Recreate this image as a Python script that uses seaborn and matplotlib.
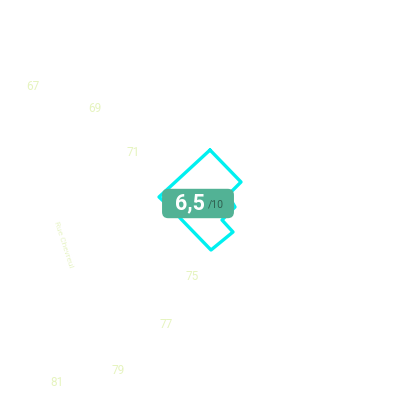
import numpy as np
import pandas as pd
import matplotlib
matplotlib.use("Agg")
import matplotlib.pyplot as plt
import seaborn as sns

# Building outline (map pixel coordinates, y down)
outline_x = [210, 241, 228, 235, 222, 233, 211, 181, 175, 159, 210]
outline_y = [150, 182, 195, 207, 220, 232, 250, 219, 212, 197, 150]

# House numbers along the street
house_numbers = ["67", "69", "71", "75", "77", "79", "81"]
house_x = [33, 95, 133, 192, 166, 118, 57]
house_y = [87, 108, 153, 277, 325, 370, 382]

street_name = "Rue Chevreul"
score = "6,5"
score_max = "/10"

sns.set_theme(style="white")
plt.rcParams['font.family'] = ['Roboto', 'DejaVu Sans']

fig, ax = plt.subplots(figsize=(4, 4), dpi=100)
fig.subplots_adjust(left=0, right=1, bottom=0, top=1)

df = pd.DataFrame({"x": outline_x, "y": outline_y})
sns.lineplot(data=df, x="x", y="y", sort=False, estimator=None,
             color="#00f0f0", linewidth=2.4, ax=ax)

for lab, x, y in zip(house_numbers, house_x, house_y):
    ax.text(x, y, lab, color="#e6f4bf", fontsize=8.5, ha="center", va="center")

ax.text(63, 244, street_name, color="#e8f4c8", fontsize=6, rotation=-72,
        ha="center", va="center")

# score badge
ax.text(198, 203.5, "            ", fontsize=15, ha="center", va="center",
        bbox=dict(boxstyle="round,pad=0.25,rounding_size=0.3", fc="#52b295", ec="none"))
ax.text(189.5, 203, score, color="white", fontsize=15.5, fontweight="bold",
        ha="center", va="center")
ax.text(216, 205, score_max, color="#2f5f50", fontsize=7.5, ha="center", va="center")

ax.set_xlim(0, 400)
ax.set_ylim(400, 0)
ax.axis("off")

fig.savefig("out.png", dpi=100)
